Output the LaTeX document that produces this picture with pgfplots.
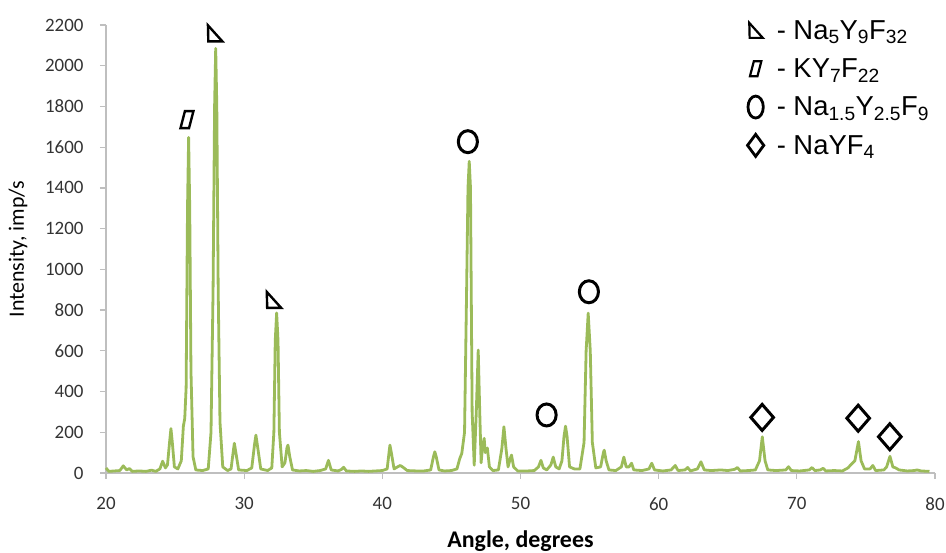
\documentclass[border=0pt]{standalone}
\usepackage{fontspec}
\setmainfont{Carlito}
\newfontfamily\legfont{Liberation Sans}
\usepackage{pgfplots}
\pgfplotsset{compat=1.18}
\definecolor{xrdgreen}{HTML}{9BBB59}
\definecolor{axgray}{HTML}{BFBFBF}

% phase marks
\pgfdeclareplotmark{tri}{%
  \pgfpathmoveto{\pgfqpoint{-0.85\pgfplotmarksize}{\pgfplotmarksize}}%
  \pgfpathlineto{\pgfqpoint{-0.8\pgfplotmarksize}{-\pgfplotmarksize}}%
  \pgfpathlineto{\pgfqpoint{0.95\pgfplotmarksize}{-\pgfplotmarksize}}%
  \pgfpathclose
  \pgfusepathqstroke}
\pgfdeclareplotmark{para}{%
  \pgfpathmoveto{\pgfqpoint{-0.76\pgfplotmarksize}{-\pgfplotmarksize}}%
  \pgfpathlineto{\pgfqpoint{0.24\pgfplotmarksize}{-\pgfplotmarksize}}%
  \pgfpathlineto{\pgfqpoint{0.76\pgfplotmarksize}{\pgfplotmarksize}}%
  \pgfpathlineto{\pgfqpoint{-0.24\pgfplotmarksize}{\pgfplotmarksize}}%
  \pgfpathclose
  \pgfusepathqstroke}
\pgfdeclareplotmark{ell}{%
  \pgfpathellipse{\pgfpointorigin}{\pgfqpoint{0.87\pgfplotmarksize}{0pt}}{\pgfqpoint{0pt}{\pgfplotmarksize}}%
  \pgfusepathqstroke}
\pgfdeclareplotmark{dia}{%
  \pgfpathmoveto{\pgfqpoint{0pt}{\pgfplotmarksize}}%
  \pgfpathlineto{\pgfqpoint{0.87\pgfplotmarksize}{0pt}}%
  \pgfpathlineto{\pgfqpoint{0pt}{-\pgfplotmarksize}}%
  \pgfpathlineto{\pgfqpoint{-0.87\pgfplotmarksize}{0pt}}%
  \pgfpathclose
  \pgfusepathqstroke}

\begin{document}
\begin{tikzpicture}
\begin{axis}[
  scale only axis,
  width=829bp, height=448bp,
  xmin=20, xmax=80, ymin=0, ymax=2200,
  axis lines=left,
  axis line style={-, draw=axgray, line width=1.6bp},
  xtick={20,30,...,80},
  ytick={0,200,...,2200},
  tick align=outside,
  major tick length=6bp,
  tick style={draw=axgray, line width=1.2bp},
  tick label style={font=\fontsize{19}{22}\selectfont, text=black!80},
  xticklabel style={yshift=-15bp},
  yticklabel style={xshift=-13bp},
  /pgf/number format/assume math mode=true,
  /pgf/number format/1000 sep={},
  xlabel={\bfseries Angle, degrees},
  ylabel={Intensity, imp/s},
  xlabel style={font=\fontsize{24}{28}\selectfont, at={(axis description cs:0.5,0)}, anchor=center, yshift=-68bp},
  ylabel style={font=\fontsize{22}{26}\selectfont, at={(axis description cs:0,0.5)}, anchor=center, yshift=88bp},
  clip=false,
  legend cell align=left,
  legend style={draw=none, fill=none, at={(axis description cs:0.77,1.02)}, anchor=north west,
    font=\legfont\fontsize{27.5}{30}\selectfont, row sep=14bp},
]

% --- measured pattern ---
\addplot[xrdgreen, line width=2.8bp, line join=round, forget plot] coordinates {
(20.0,25) (20.2,8) (20.6,10) (21.0,12) (21.25,35) (21.5,15) (21.7,22) (21.9,8)
(22.4,10) (22.9,8) (23.3,14) (23.6,8) (23.9,20) (24.1,58) (24.3,25) (24.45,40)
(24.6,150) (24.7,218) (24.8,150) (24.95,30) (25.2,20) (25.45,60) (25.6,230) (25.7,268)
(25.8,420) (25.9,1300) (25.98,1648) (26.06,1300) (26.15,500) (26.3,80) (26.5,15)
(27.0,12) (27.4,20) (27.6,200) (27.75,900) (27.86,1800) (27.94,2085) (28.02,1800)
(28.12,900) (28.25,250) (28.45,30) (28.8,12) (29.05,20) (29.2,100) (29.29,146)
(29.4,100) (29.6,15) (30.2,12) (30.55,25) (30.75,140) (30.85,186) (30.95,140)
(31.2,20) (31.7,12) (32.0,25) (32.15,200) (32.25,650) (32.35,786) (32.45,650)
(32.55,200) (32.75,30) (32.95,50) (33.1,125) (33.17,137) (33.3,80) (33.5,15)
(34.0,10) (34.5,12) (35.0,8) (35.5,12) (35.9,20) (36.1,62) (36.3,15) (36.8,10)
(37.05,18) (37.2,28) (37.4,10) (38.0,8) (38.5,10) (39.0,8) (39.5,10) (40.0,12)
(40.35,20) (40.5,110) (40.55,137) (40.65,100) (40.85,20) (41.1,30) (41.3,37)
(41.5,28) (41.8,12) (42.5,10) (43.0,10) (43.5,15) (43.7,80) (43.8,104) (43.9,80)
(44.1,15) (44.5,10) (45.0,12) (45.4,20) (45.6,70) (45.75,96) (45.95,200) (46.1,900)
(46.2,1400) (46.29,1531) (46.38,1400) (46.5,300) (46.65,38) (46.8,300) (46.94,604)
(47.05,300) (47.15,50) (47.25,130) (47.37,170) (47.45,100) (47.6,123) (47.75,30)
(48.0,12) (48.4,15) (48.65,120) (48.8,227) (48.95,120) (49.1,30) (49.25,70)
(49.35,88) (49.5,30) (49.8,10) (50.5,10) (51.0,12) (51.3,30) (51.48,62) (51.65,25)
(51.9,15) (52.2,40) (52.37,78) (52.55,30) (52.8,20) (53.0,60) (53.15,180)
(53.26,230) (53.37,180) (53.55,30) (53.9,20) (54.3,20) (54.6,150) (54.75,600)
(54.9,785) (55.05,600) (55.2,150) (55.45,25) (55.8,30) (56.0,100) (56.06,112)
(56.2,60) (56.4,15) (56.9,12) (57.3,30) (57.48,78) (57.65,30) (57.85,30) (58.04,48)
(58.2,15) (58.8,12) (59.3,20) (59.5,48) (59.7,15) (60.3,10) (60.9,15) (61.2,37)
(61.4,12) (61.9,15) (62.1,27) (62.3,10) (62.8,20) (63.06,55) (63.3,15) (63.8,12)
(64.5,15) (65.0,12) (65.5,18) (65.7,27) (65.9,10) (66.5,12) (67.0,15) (67.3,60)
(67.5,178) (67.7,60) (67.9,15) (68.5,12) (69.2,15) (69.4,31) (69.6,12) (70.2,10)
(70.9,15) (71.1,27) (71.3,12) (71.7,15) (71.9,23) (72.1,10) (72.7,12) (73.3,10)
(73.7,25) (74.0,47) (74.2,60) (74.46,154) (74.65,60) (74.9,20) (75.3,20) (75.5,37)
(75.7,12) (76.3,15) (76.5,30) (76.74,82) (76.95,30) (77.15,25) (77.4,15) (78.0,10)
(78.5,12) (78.7,15) (79.0,10) (79.6,8)
};

% --- phase markers above the peaks ---
\addplot[only marks, mark=tri, mark size=8bp, mark options={draw=black, line width=2.4bp}, forget plot]
  coordinates {(27.87,2159) (32.13,850)};
\addplot[only marks, mark=para, mark size=8.5bp, mark options={draw=black, line width=2.4bp}, forget plot]
  coordinates {(25.86,1735)};
\addplot[only marks, mark=ell, mark size=11bp, mark options={draw=black, line width=3bp}, forget plot]
  coordinates {(46.19,1627) (54.95,890) (51.89,285)};
\addplot[only marks, mark=dia, mark size=13bp, mark options={draw=black, line width=3bp}, forget plot]
  coordinates {(67.49,273) (74.44,269) (76.73,178)};

% --- legend ---
\addlegendimage{only marks, mark=tri, mark size=7.5bp, mark options={draw=black, line width=2.2bp}}
\addlegendentry{\hspace{11bp}- Na\textsubscript{5}Y\textsubscript{9}F\textsubscript{32}}
\addlegendimage{only marks, mark=para, mark size=7.5bp, mark options={draw=black, line width=2.2bp}}
\addlegendentry{\hspace{11bp}- KY\textsubscript{7}F\textsubscript{22}}
\addlegendimage{only marks, mark=ell, mark size=11bp, mark options={draw=black, line width=2.8bp, xscale=0.8}}
\addlegendentry{\hspace{11bp}- Na\textsubscript{1.5}Y\textsubscript{2.5}F\textsubscript{9}}
\addlegendimage{only marks, mark=dia, mark size=11bp, mark options={draw=black, line width=2.8bp, xscale=0.85}}
\addlegendentry{\hspace{11bp}- NaYF\textsubscript{4}}
\end{axis}
\pgfresetboundingbox
\path[use as bounding box] ([xshift=-106bp,yshift=-80bp]current axis.south west)
  rectangle ([xshift=11bp,yshift=25bp]current axis.north east);
\end{tikzpicture}
\end{document}
